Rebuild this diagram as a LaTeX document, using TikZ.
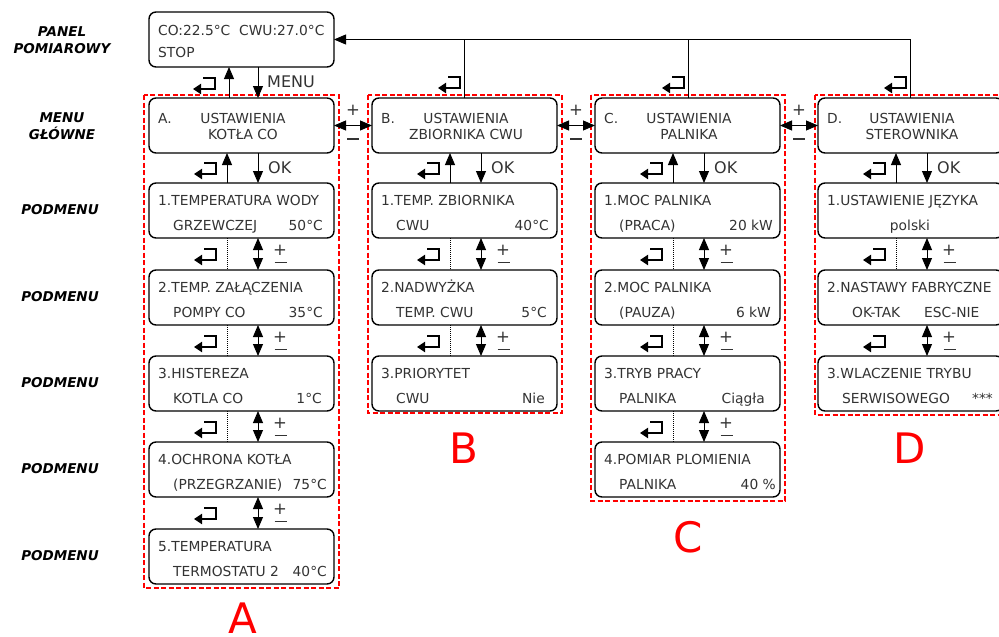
\documentclass[tikz,border=0pt]{standalone}
\usepackage{fontspec}
\setmainfont{DejaVu Sans}
\usetikzlibrary{arrows.meta,calc}
\definecolor{txtc}{HTML}{333333}
\tikzset{
 box/.style={draw, line width=1.4pt, rounded corners=7pt, minimum width=185pt, minimum height=55pt, inner sep=0pt, outer sep=0pt},
 grp/.style={draw=red, line width=2.8pt, dash pattern=on 5pt off 2.5pt},
 txt/.style={text=txtc, font=\fontsize{13.8}{16}\selectfont, inner sep=0pt},
 key/.style={text=txtc, font=\fontsize{16}{18}\selectfont, inner sep=0pt},
 lbl/.style={font=\fontsize{13.5}{16.5}\selectfont\bfseries\itshape, inner sep=0pt, align=center},
 arr/.style={line width=0.9pt, -{Triangle[length=12pt,width=10pt]}},
 darr/.style={line width=0.9pt, {Triangle[length=12pt,width=10pt]}-{Triangle[length=12pt,width=10pt]}},
 fb/.style={line width=0.8pt},
 dots/.style={line width=0.5pt, dash pattern=on 1pt off 1pt},
 retl/.style={line width=2pt, line join=miter, -{Triangle[length=8pt,width=10pt]}},
 pm/.style={font=\fontsize{16.5}{16.5}\selectfont, inner sep=0pt, text=txtc},
 mn/.style={inner sep=0pt, text=txtc},
 big/.style={font=\fontsize{42}{42}\selectfont, text=red, inner sep=0pt},
}
\newcommand\myminus{\rule{12pt}{1.3pt}}
% sub box: name, left, top, line1, line2, right text, right offset
\newcommand\mysub[7]{%
 \node[box,anchor=north west] (#1) at (#2,#3) {};
 \node[txt,anchor=base west] (#1-a) at (#2+9,#3+22) {#4};
 \node[txt,anchor=base west] (#1-b) at (#2+24,#3+47) {#5};
 \node[txt,anchor=base east] (#1-c) at (#2+#7,#3+47) {#6};
}
% main box: name, left, letter, line1, line2
\newcommand\mymain[5]{%
 \node[box,anchor=north west] (#1) at (#2,98) {};
 \node[txt,anchor=base west] (#1-k) at (#2+9,123) {#3};
 \node[txt,anchor=base] (#1-a) at (#2+94,123) {#4};
 \node[txt,anchor=base] (#1-b) at (#2+94,139.5) {#5};
}
% return glyph relative to a point: ref, dx (right edge), dy (top)
\newcommand\myret[3]{%
 \draw[retl] ([shift={(#2-12,#3)}]#1) -- ([shift={(#2,#3)}]#1) -- ([shift={(#2,#3+11)}]#1) -- ([shift={(#2-22,#3+11)}]#1);
}
% link between two sub boxes: upper, lower
\newcommand\mylink[2]{%
 \draw[darr] ([xshift=109pt]#1.south west) -- ([xshift=109pt]#2.north west);
 \node[pm] (#1-p) at ([shift={(131,12)}]#1.south west) {+};
 \node[mn] (#1-m) at ([shift={(131.5,24.5)}]#1.south west) {\myminus};
 \myret{#1.south west}{67}{11}
}
\newcommand\mydots[2]{%
 \draw[dots] ([xshift=78pt]#1.south west) -- ([xshift=78pt]#2.north west);
}
% main to first sub
\newcommand\myfirst[2]{%
 \draw[arr] ([xshift=78pt]#2.north west) -- ([xshift=78pt]#1.south west);
 \draw[arr] ([xshift=109pt]#1.south west) -- ([xshift=109pt]#2.north west);
 \node[key,anchor=west] (#1-ok) at ([shift={(119,15)}]#1.south west) {OK};
 \myret{#1.south west}{67}{10}
}
\begin{document}
\begin{tikzpicture}[x=1pt,y=-1pt]
\useasboundingbox (0,0) rectangle (999,637);
\clip (0,0) rectangle (999,637);
\fill[white] (0,0) rectangle (999,637);

% left labels
\node[lbl] (l0) at (62,40) {PANEL\\POMIAROWY};
\node[lbl] (l1) at (62,126) {MENU\\GŁÓWNE};
\node[lbl] (l2) at (60,210) {PODMENU};
\node[lbl] (l3) at (60,297) {PODMENU};
\node[lbl] (l4) at (60,383) {PODMENU};
\node[lbl] (l5) at (60,469) {PODMENU};
\node[lbl] (l6) at (60,556) {PODMENU};

% panel
\node[box,anchor=north west] (P) at (149,12) {};
\node[txt,anchor=base west] (P-a) at (158,35) {CO:22.5°C~ CWU:27.0°C};
\node[txt,anchor=base west] (P-b) at (158,57) {STOP};

% groups
\draw[grp] (144,95) rectangle (339,588);
\draw[grp] (368,95) rectangle (562,413);
\draw[grp] (591,95) rectangle (785,501);
\draw[grp] (815,95) rectangle (1010,415);

% main boxes
\mymain{Am}{149}{A.}{USTAWIENIA}{KOTŁA CO}
\mymain{Bm}{372}{B.}{USTAWIENIA}{ZBIORNIKA CWU}
\mymain{Cm}{595}{C.}{USTAWIENIA}{PALNIKA}
\mymain{Dm}{818}{D.}{USTAWIENIA}{STEROWNIKA}

% column A
\mysub{A1}{149}{183}{1.TEMPERATURA WODY}{GRZEWCZEJ}{50°C}{174}
\mysub{A2}{149}{270}{2.TEMP. ZAŁĄCZENIA}{POMPY CO}{35°C}{174}
\mysub{A3}{149}{356}{3.HISTEREZA}{KOTLA CO}{1°C}{173}
\mysub{A4}{149}{442}{4.OCHRONA KOTŁA}{(PRZEGRZANIE)}{75°C}{178}
\mysub{A5}{149}{529}{5.TEMPERATURA}{TERMOSTATU 2}{40°C}{178}
% column B
\mysub{B1}{372}{183}{1.TEMP. ZBIORNIKA}{CWU}{40°C}{177}
\mysub{B2}{372}{270}{2.NADWYŻKA}{TEMP. CWU}{5°C}{175}
\mysub{B3}{372}{356}{3.PRIORYTET}{CWU}{Nie}{173}
% column C
\mysub{C1}{595}{183}{1.MOC PALNIKA}{(PRACA)}{20 kW}{178}
\mysub{C2}{595}{270}{2.MOC PALNIKA}{(PAUZA)}{6 kW}{176}
\mysub{C3}{595}{356}{3.TRYB PRACY}{PALNIKA}{Ciągła}{170}
\mysub{C4}{595}{442}{4.POMIAR PLOMIENIA}{PALNIKA}{40 \%}{181}
% column D
\node[box,anchor=north west] (D1) at (818,183) {};
\node[txt,anchor=base west] (D1-a) at (827,205) {1.USTAWIENIE JĘZYKA};
\node[txt,anchor=base] (D1-b) at (910,230) {polski};
\node[box,anchor=north west] (D2) at (818,270) {};
\node[txt,anchor=base west] (D2-a) at (827,292) {2.NASTAWY FABRYCZNE};
\node[txt,anchor=base west] (D2-b) at (852,317) {OK-TAK};
\node[txt,anchor=base west] (D2-c) at (924,317) {ESC-NIE};
\mysub{D3}{818}{356}{3.WLACZENIE TRYBU}{SERWISOWEGO}{***}{175}

% panel <-> A
\draw[arr] ([xshift=80pt]Am.north west) -- ([xshift=80pt]P.south west);
\draw[arr] ([xshift=109pt]P.south west) -- ([xshift=109pt]Am.north west);
\node[key,anchor=west] (menu) at ([shift={(118,15)}]P.south west) {MENU};
\myret{P.south west}{66}{11}

% main -> first sub
\myfirst{Am}{A1}
\myfirst{Bm}{B1}
\myfirst{Cm}{C1}
\myfirst{Dm}{D1}

% sub links
\mylink{A1}{A2}\mydots{A1}{A2}
\mylink{A2}{A3}\mydots{A2}{A3}
\mylink{A3}{A4}\mydots{A3}{A4}
\mylink{A4}{A5}
\mylink{B1}{B2}\mydots{B1}{B2}
\mylink{B2}{B3}\mydots{B2}{B3}
\mylink{C1}{C2}\mydots{C1}{C2}
\mylink{C2}{C3}\mydots{C2}{C3}
\mylink{C3}{C4}\mydots{C3}{C4}
\mylink{D1}{D2}\mydots{D1}{D2}
\mylink{D2}{D3}

% horizontal links between main boxes
\draw[darr] (Am.east) -- (Bm.west);
\draw[darr] (Bm.east) -- (Cm.west);
\draw[darr] (Cm.east) -- (Dm.west);
\node[pm] (ab-p) at ($(Am.east)!0.5!(Bm.west)+(0,-15)$) {+};
\node[mn] (ab-m) at ($(Am.east)!0.5!(Bm.west)+(0,13.5)$) {\myminus};
\node[pm] (bc-p) at ($(Bm.east)!0.5!(Cm.west)+(0,-15)$) {+};
\node[mn] (bc-m) at ($(Bm.east)!0.5!(Cm.west)+(0,13.5)$) {\myminus};
\node[pm] (cd-p) at ($(Cm.east)!0.5!(Dm.west)+(0,-15)$) {+};
\node[mn] (cd-m) at ($(Cm.east)!0.5!(Dm.west)+(0,13.5)$) {\myminus};

% feedback to panel
\coordinate (bt) at ([xshift=92pt]Bm.north west);
\coordinate (ct) at ([xshift=93pt]Cm.north west);
\coordinate (dt) at ([xshift=92pt]Dm.north west);
\draw[fb,-{Triangle[length=12pt,width=10pt]}] (dt) |- (P.east);
\draw[fb] (bt) -- (bt |- P.east);
\draw[fb] (ct) -- (ct |- P.east);
\myret{bt}{-4}{-21}
\myret{ct}{-4}{-21}
\myret{dt}{-4}{-21}

% big letters
\node[big,anchor=base] (LA) at (243,633) {A};
\node[big,anchor=base] (LB) at (464,463) {B};
\node[big,anchor=base] (LC) at (688,552) {C};
\node[big,anchor=base] (LD) at (910,463) {D};
\end{tikzpicture}
\end{document}
